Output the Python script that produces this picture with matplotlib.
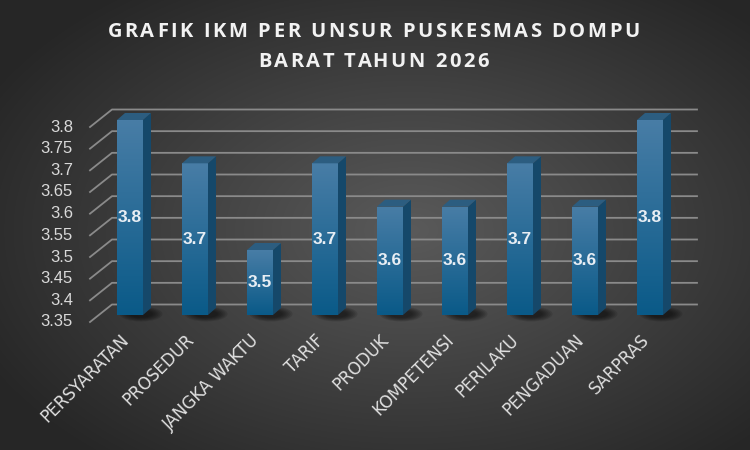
import numpy as np
import matplotlib
matplotlib.use("Agg")
import matplotlib.pyplot as plt
from matplotlib.patches import Polygon, Ellipse
from matplotlib.font_manager import FontProperties, fontManager

categories = ["PERSYARATAN", "PROSEDUR", "JANGKA WAKTU", "TARIF", "PRODUK",
              "KOMPETENSI", "PERILAKU", "PENGADUAN", "SARPRAS"]
values = [3.8, 3.7, 3.5, 3.7, 3.6, 3.6, 3.7, 3.6, 3.8]
yticks = [3.35, 3.4, 3.45, 3.5, 3.55, 3.6, 3.65, 3.7, 3.75, 3.8]
title_lines = ["GRAFIK IKM PER UNSUR PUSKESMAS DOMPU", "BARAT TAHUN 2026"]

# look for a condensed sans for the category labels
narrow_path = None
for f in fontManager.ttflist:
    if "Narrow" in f.name and "Liberation" in f.name and f.style == "normal" and f.weight in (400, "normal"):
        narrow_path = f.fname
        break
if narrow_path is None:
    for f in fontManager.ttflist:
        if f.name == "DejaVu Sans" and "ondensed" in str(f.stretch) and f.style == "normal" \
                and f.weight in (400, "normal", "book"):
            narrow_path = f.fname
            break
if narrow_path:
    cat_font = FontProperties(fname=narrow_path)
else:
    cat_font = FontProperties(family="Liberation Sans")

W, H = 750, 450
fig = plt.figure(figsize=(7.5, 4.5), dpi=100)
renderer = fig.canvas.get_renderer()


def text_width(s, **kw):
    t = fig.text(0, 0, s, **kw)
    w = t.get_window_extent(renderer).width
    t.remove()
    return w


# background radial gradient
bg = fig.add_axes([0, 0, 1, 1])
yy, xx = np.mgrid[0:H, 0:W]
r = np.sqrt(((xx - 410) / 480.0) ** 2 + ((yy - 230) / 300.0) ** 2)
r = np.clip(r, 0, 1)
lo = np.array([0x5a, 0x5a, 0x5a]) / 255.0
hi = np.array([0x26, 0x26, 0x26]) / 255.0
img = lo[None, None, :] * (1 - r[..., None]) + hi[None, None, :] * r[..., None]
bg.imshow(img, extent=[0, W, H, 0], aspect="auto")
bg.axis("off")

# main axes: bar front plane, y 3.35 -> px 315, 3.8 -> px 120
left_px, right_px = 97.5, 682.5
ax = fig.add_axes([left_px / W, (H - 315) / H, (right_px - left_px) / W, 195 / H])
ax.set_xlim(-0.5, 8.5)
ax.set_ylim(3.35, 3.8)
ax.axis("off")
ax.patch.set_alpha(0)

px_x = 9.0 / (right_px - left_px)   # data units per pixel in x
px_y = 0.45 / 195.0                 # data units per pixel in y

# gridlines: front panel -> back wall -> right end
fx, fy = -7.5 * px_x, -7 * px_y
bx, by = 14.5 * px_x, 10.5 * px_y
x_end = (697 - 130) / 65.0
for v in yticks:
    ax.plot([-0.5 + fx, -0.5 + bx, x_end], [v + fy, v + by, v + by],
            color="#8a8a8a", lw=1.3, clip_on=False, zorder=1)
    ax.text((73 - 130) / 65.0, v + fy, f"{v:g}", ha="right", va="center",
            color="#d9d9d9", fontsize=12, family="Liberation Sans", clip_on=False)

bw = 0.4
dx, dy = 8 * px_x, 7 * px_y
x = np.arange(len(categories))

# shadows at bar bases
for xi in x:
    for k in range(6):
        ax.add_patch(Ellipse((xi + 0.17, 3.35 + 1 * px_y), 0.66 - k * 0.06, 15 * px_y - k * 1.5 * px_y,
                             color="black", alpha=0.11, lw=0, clip_on=False, zorder=2))

bars = ax.bar(x, np.array(values) - 3.35, bottom=3.35, width=bw, color="none", zorder=4)
grad = np.linspace(0, 1, 100)[:, None]
top_c = np.array([0x48, 0x7d, 0xa6]) / 255.0
bot_c = np.array([0x0a, 0x5a, 0x88]) / 255.0
gimg = top_c[None, None, :] * (1 - grad[..., None]) + bot_c[None, None, :] * grad[..., None]
for b, xi, v in zip(bars, x, values):
    im = ax.imshow(gimg, extent=[xi - bw / 2, xi + bw / 2, 3.35, v], aspect="auto",
                   zorder=4, origin="upper")
    im.set_clip_path(b)
    # side face
    ax.add_patch(Polygon([(xi + bw / 2, 3.35), (xi + bw / 2 + dx, 3.35 + dy),
                          (xi + bw / 2 + dx, v + dy), (xi + bw / 2, v)],
                         closed=True, facecolor="#15486a", lw=0, zorder=4, clip_on=False))
    # top face
    ax.add_patch(Polygon([(xi - bw / 2, v), (xi - bw / 2 + dx, v + dy),
                          (xi + bw / 2 + dx, v + dy), (xi + bw / 2, v)],
                         closed=True, facecolor="#2c5d80", lw=0, zorder=4, clip_on=False))
    ax.text(xi, (3.35 + v) / 2, f"{v:g}", ha="center", va="center", color="#e8eef4",
            fontsize=12.5, fontweight="bold", family="Liberation Sans", zorder=6)

ax.set_xlim(-0.5, 8.5)
ax.set_ylim(3.35, 3.8)

# category labels, sized so "PERSYARATAN" is about 116 px long
w10 = text_width(categories[0], fontproperties=cat_font, fontsize=10)
cat_size = 10 * 116.0 / w10
for xi, c in zip(x, categories):
    ax.text(xi - 10 * px_x, 3.35 - 16 * px_y, c, rotation=45, rotation_mode="anchor",
            ha="right", va="top", color="#e0e0e0", fontproperties=cat_font,
            fontsize=cat_size, clip_on=False)

# title with letter spacing
tkw = dict(fontsize=14.5, fontweight="bold", family="Open Sans")
wI = text_width("I", **tkw)
line0 = title_lines[0]
nat = text_width(line0 + "I", **tkw) - wI
track = (532.0 - nat) / (len(line0) - 1)
for line, base in zip(title_lines, [37, 67]):
    total = text_width(line + "I", **tkw) - wI + track * (len(line) - 1)
    start = 373.5 - total / 2
    for i, ch in enumerate(line):
        if ch == " ":
            continue
        off = (text_width(line[:i] + "I", **tkw) - wI) if i else 0
        fig.text((start + off + track * i) / W, 1 - base / H, ch, ha="left",
                 va="baseline", color="#f2f2f2", **tkw)

fig.savefig("out.png", dpi=100)
